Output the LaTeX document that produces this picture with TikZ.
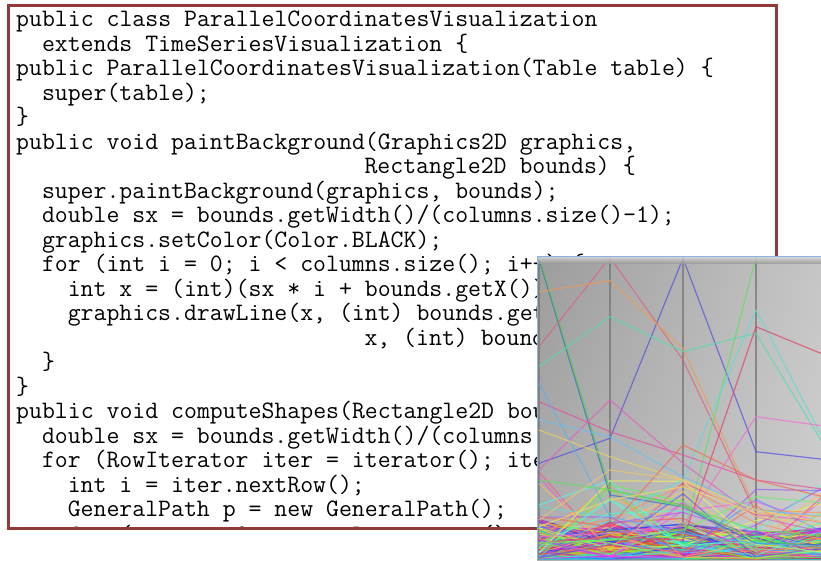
\documentclass[tikz,border=0pt]{standalone}
\usepackage{fontspec}
\usetikzlibrary{shadings}
% Courier-like code font: Latin Modern Mono, 12.9pt per character
\newcommand\codefont{\ttfamily\fontsize{25.08}{24.5}\selectfont\frenchspacing}
\definecolor{boxred}{RGB}{146,58,58}
\definecolor{bgA}{RGB}{156,156,156}
\definecolor{bgB}{RGB}{198,198,198}
\definecolor{bgC}{RGB}{176,176,176}
\definecolor{bgD}{RGB}{206,206,206}
\definecolor{axisgray}{RGB}{118,118,118}
\definecolor{panelblue}{RGB}{140,178,230}
% row colours
\definecolor{rBlue}{RGB}{80,80,225}
\definecolor{rSteel}{RGB}{50,110,200}
\definecolor{rGreen}{RGB}{80,200,80}
\definecolor{rRose}{RGB}{225,95,125}
\definecolor{rOrange}{RGB}{240,155,85}
\definecolor{rAqua}{RGB}{85,220,175}
\definecolor{rLime}{RGB}{95,225,95}
\definecolor{rCyan}{RGB}{95,220,215}
\definecolor{rCrimson}{RGB}{225,65,100}
\definecolor{rMagenta}{RGB}{225,80,160}
\definecolor{rOrchid}{RGB}{225,95,190}
\definecolor{rPink}{RGB}{240,110,210}
\definecolor{rSky}{RGB}{95,175,240}
\definecolor{rSky2}{RGB}{110,190,240}
\definecolor{rYellow}{RGB}{240,210,95}
\definecolor{rCoral}{RGB}{240,110,80}
\definecolor{rPeach}{RGB}{240,195,110}
\definecolor{rMint}{RGB}{110,240,110}
\definecolor{rGold}{RGB}{240,215,110}
\tikzset{
  code/.style={anchor=base west, inner sep=0pt, font=\codefont, text=black},
  pline/.style={line width=1.2pt, opacity=0.7, line join=round},
  axisline/.style={axisgray, line width=1.4pt, opacity=0.75},
}
\begin{document}
\begin{tikzpicture}[x=1pt,y=-1pt]
\useasboundingbox (0,0) rectangle (821,560);
\fill[white] (0,0) rectangle (821,560);

% ---- code listing ----
\node[code] (l1)  at ({16+0*12.9},26.7)  {public class ParallelCoordinatesVisualization};
\node[code] (l2)  at ({16+2*12.9},51.2)  {extends TimeSeriesVisualization \{};
\node[code] (l3)  at ({16+0*12.9},75.7)  {public ParallelCoordinatesVisualization(Table table) \{};
\node[code] (l4)  at ({16+2*12.9},100.2) {super(table);};
\node[code] (l5)  at ({16+0*12.9},124.7) {\}};
\node[code] (l6)  at ({16+0*12.9},149.2) {public void paintBackground(Graphics2D graphics,};
\node[code] (l7)  at ({16+27*12.9},173.7) {Rectangle2D bounds) \{};
\node[code] (l8)  at ({16+2*12.9},198.2) {super.paintBackground(graphics, bounds);};
\node[code] (l9)  at ({16+2*12.9},222.7) {double sx = bounds.getWidth()/(columns.size()-1);};
\node[code] (l10) at ({16+2*12.9},247.2) {graphics.setColor(Color.BLACK);};
\node[code] (l11) at ({16+2*12.9},271.7) {for (int i = 0; i < columns.size(); i++) \{};
\node[code] (l12) at ({16+4*12.9},296.2) {int x = (int)(sx * i + bounds.getX());};
\node[code] (l13) at ({16+4*12.9},320.7) {graphics.drawLine(x, (int) bounds.getY(),};
\node[code] (l14) at ({16+27*12.9},345.2) {x, (int) bounds.getMaxY());};
\node[code] (l15) at ({16+2*12.9},369.7) {\}};
\node[code] (l16) at ({16+0*12.9},394.2) {\}};
\node[code] (l17) at ({16+0*12.9},418.7) {public void computeShapes(Rectangle2D bounds) \{};
\node[code] (l18) at ({16+2*12.9},443.2) {double sx = bounds.getWidth()/(columns.size()-1);};
\node[code] (l19) at ({16+2*12.9},467.7) {for (RowIterator iter = iterator(); iter.hasNext(); ) \{};
\node[code] (l20) at ({16+4*12.9},492.2) {int i = iter.nextRow();};
\node[code] (l21) at ({16+4*12.9},516.7) {GeneralPath p = new GeneralPath();};
\node[code] (l22) at ({16+4*12.9},542.5) {for (int j = 0; j < columns.size(); j++) \{};
% the listing is cut off at the frame: blank out what runs below it
\fill[white] (0,527.2) rectangle (821,560);
\draw[boxred, line width=3pt] (8,5) rectangle (776.5,528.5);

% ---- parallel coordinates view ----
\begin{scope}
  \clip (537,256) rectangle (821,560);
  \shade[upper left=bgA, upper right=bgB, lower left=bgC, lower right=bgD]
    (537,256) rectangle (821,560);
  \foreach \x in {539,610,683,756} \draw[axisline] (\x,256) -- (\x,560);

  % dense bundle of rows near the bottom of every axis
  \pgfmathsetseed{11}
  \foreach \i in {1,...,220}{
    \pgfmathsetmacro\hh{rnd}
    \pgfmathsetmacro\ya{559-40*pow(rnd,3)}
    \pgfmathsetmacro\yb{559-38*pow(rnd,3)}
    \pgfmathsetmacro\yc{559-36*pow(rnd,3)}
    \pgfmathsetmacro\yd{559-28*pow(rnd,3)}
    \pgfmathsetmacro\ye{559-34*pow(rnd,3)}
    \definecolor{rl}{hsb}{\hh,0.85,0.97}
    \draw[rl, pline, opacity=0.7] (539,\ya) -- (610,\yb) -- (683,\yc) -- (756,\yd) -- (829,\ye);
  }
  \foreach \i in {1,...,30}{
    \pgfmathsetmacro\hh{rnd}
    \pgfmathsetmacro\ya{558-90*pow(rnd,2)}
    \pgfmathsetmacro\yb{558-80*pow(rnd,2)}
    \pgfmathsetmacro\yc{558-80*pow(rnd,2)}
    \pgfmathsetmacro\yd{558-70*pow(rnd,2)}
    \pgfmathsetmacro\ye{558-80*pow(rnd,2)}
    \definecolor{rl}{hsb}{\hh,0.7,1}
    \draw[rl, pline, opacity=0.6] (539,\ya) -- (610,\yb) -- (683,\yc) -- (756,\yd) -- (829,\ye);
  }

  % rows with large values
  \draw[pline, rBlue]    (539,463.3) -- (610,438.3) -- (683,258.3) -- (756,451.7) -- (829,460);
  \draw[pline, rSteel]   (539,259)   -- (610,495)   -- (683,506.7) -- (756,543.3) -- (829,545);
  \draw[pline, rGreen]   (539,256.5) -- (610,490)   -- (683,505)   -- (756,540)   -- (829,548);
  \draw[pline, rRose]    (539,346.7) -- (610,257.3) -- (683,360)   -- (756,513.3) -- (829,516.7);
  \draw[pline, rOrange]  (539,291.7) -- (610,280.7) -- (683,348.3) -- (756,510)   -- (829,513);
  \draw[pline, rAqua]    (539,366.7) -- (610,316.7) -- (683,351.7) -- (756,333.3) -- (829,453.3);
  \draw[pline, rLime]    (539,543)   -- (610,540)   -- (683,536.7) -- (756,257.3) -- (829,254);
  \draw[pline, rCyan]    (539,506.7) -- (610,516.7) -- (683,480)   -- (756,310)   -- (829,450);
  \draw[pline, rCrimson] (539,543.3) -- (610,536.7) -- (683,540)   -- (756,326.7) -- (829,356.7);
  \draw[pline, rMagenta] (539,401.7) -- (610,431.7) -- (683,455)   -- (756,480)   -- (829,490);
  \draw[pline, rOrchid]  (539,470)   -- (610,400)   -- (683,463.3) -- (756,516.7) -- (829,533.3);
  \draw[pline, rPink]    (539,536.7) -- (610,533.3) -- (683,526.7) -- (756,416.7) -- (829,426.7);
  \draw[pline, rSky]     (539,383.3) -- (610,516.7) -- (683,533.3) -- (756,543.3) -- (829,546.7);
  \draw[pline, rSky2]    (539,420)   -- (610,436.7) -- (683,476.7) -- (756,510)   -- (829,516.7);
  \draw[pline, rYellow]  (539,430)   -- (610,456.7) -- (683,480)   -- (756,510)   -- (829,523.3);
  \draw[pline, rCoral]   (539,516.7) -- (610,526.7) -- (683,445)   -- (756,480)   -- (829,498.3);
  \draw[pline, rPeach]   (539,520)   -- (610,470)   -- (683,480)   -- (756,516.7) -- (829,526.7);
  \draw[pline, rLime]    (539,480)   -- (610,490)   -- (683,506.7) -- (756,530)   -- (829,536.7);
  \draw[pline, rMint]    (539,543)   -- (610,540)   -- (683,530)   -- (756,496.7) -- (829,503.3);
  \draw[pline, rGold]    (539,526.7) -- (610,500)   -- (683,486.7) -- (756,513.3) -- (829,516.7);

  % bevel along the top edge
  \shade[top color=white!85!black, bottom color=bgA, opacity=0.8] (537,257) rectangle (821,263);
\end{scope}
\draw[panelblue, line width=1pt] (537.5,560) -- (537.5,256.5) -- (821,256.5);
\end{tikzpicture}
\end{document}
